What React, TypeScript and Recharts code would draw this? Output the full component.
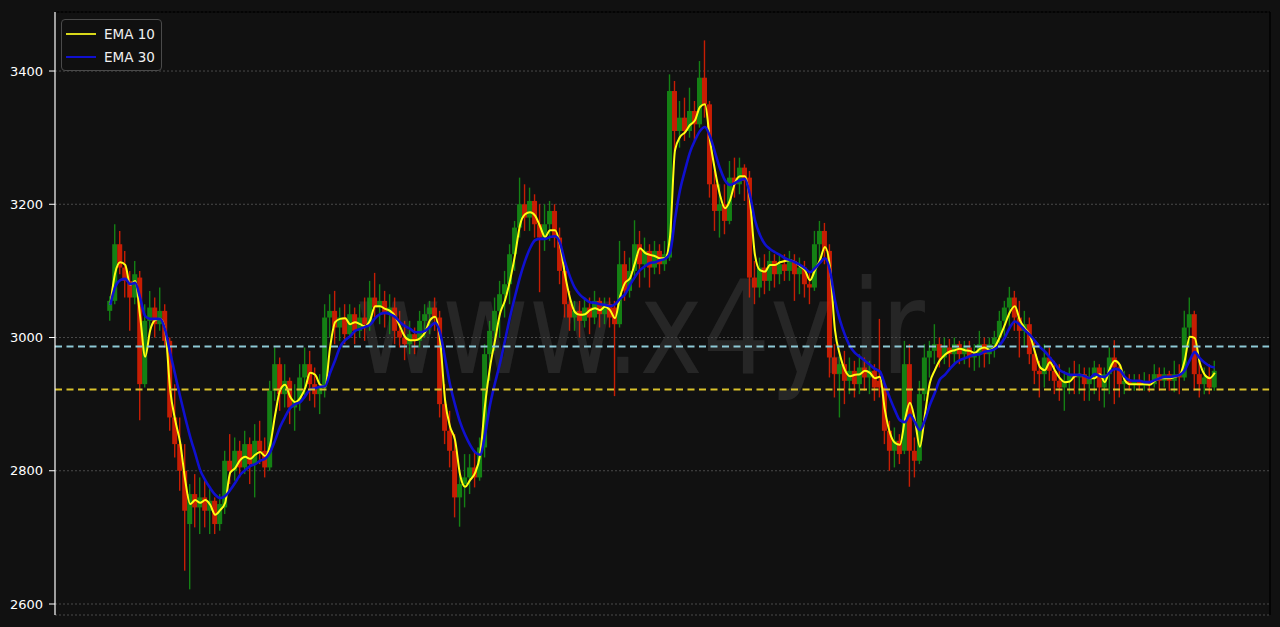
import React from 'react';
import {
  ComposedChart,
  Bar,
  Line,
  XAxis,
  YAxis,
  CartesianGrid,
  ReferenceLine,
} from 'recharts';

// ---- values ----
const yTicks = [2600, 2800, 3000, 3200, 3400];
const upperLevel = 2986.5;
const lowerLevel = 2922;

// candles: [open, high, low, close]
const candles: [number, number, number, number][] = [
  [3040,3062,3025,3055],[3055,3170,3050,3140],[3140,3160,3095,3105],[3105,3130,3060,3085],[3085,3100,3010,3060],
  [3060,3115,3050,3095],[3090,3100,2876,2930],[2930,3050,2925,3025],[3025,3070,3010,3045],[3045,3060,3000,3020],
  [3020,3075,3010,3040],[3040,3050,2985,2995],[2995,3000,2860,2880],[2880,2930,2820,2840],[2840,2880,2770,2800],
  [2800,2840,2650,2740],[2720,2780,2622,2765],[2765,2795,2715,2745],[2745,2790,2705,2760],[2760,2785,2715,2740],
  [2740,2775,2705,2755],[2755,2760,2705,2720],[2720,2765,2710,2750],[2745,2830,2735,2815],[2815,2855,2780,2800],
  [2800,2850,2785,2830],[2830,2845,2790,2805],[2805,2860,2795,2840],[2840,2850,2780,2810],[2810,2870,2760,2845],
  [2845,2875,2810,2830],[2830,2850,2790,2805],[2805,2935,2800,2920],[2920,2985,2905,2960],[2960,2970,2890,2915],
  [2915,2960,2895,2935],[2935,2940,2870,2895],[2895,2930,2860,2905],[2905,2960,2890,2940],[2940,2985,2910,2960],
  [2960,2980,2905,2930],[2930,2955,2895,2915],[2915,2945,2885,2925],[2925,3050,2910,3030],[3030,3065,3000,3040],
  [3040,3070,2990,3015],[3015,3045,2995,3030],[3030,3050,2990,3005],[3005,3050,3000,3035],[3035,3045,2990,3010],
  [3010,3050,3000,3030],[3030,3060,2995,3020],[3020,3085,3010,3060],[3060,3097,3030,3045],[3045,3080,3020,3055],
  [3055,3070,3015,3035],[3035,3065,3005,3045],[3045,3060,2990,3010],[3010,3040,2985,3000],[3000,3025,2966,2990],
  [2990,3025,2975,3005],[3005,3015,2975,2995],[2995,3040,2985,3025],[3025,3050,3000,3035],[3035,3055,3005,3045],
  [3045,3060,3010,3030],[3030,3040,2880,2900],[2900,2930,2840,2860],[2860,2890,2805,2830],[2830,2855,2730,2760],
  [2760,2800,2716,2780],[2780,2825,2745,2790],[2790,2825,2765,2805],[2805,2830,2775,2790],[2790,2850,2785,2835],
  [2835,2990,2820,2975],[2975,3025,2935,3010],[3010,3060,2980,3040],[3040,3085,3000,3065],[3065,3100,3030,3080],
  [3080,3140,3050,3125],[3125,3175,3100,3165],[3165,3240,3150,3200],[3200,3230,3160,3180],[3180,3225,3160,3205],
  [3205,3215,3150,3170],[3170,3200,3068,3150],[3150,3200,3130,3170],[3170,3205,3145,3190],[3190,3200,3135,3150],
  [3150,3165,3080,3100],[3100,3115,3030,3050],[3050,3070,3010,3030],[3030,3055,3010,3040],[3040,3055,3000,3025],
  [3025,3060,3015,3045],[3045,3060,3005,3030],[3030,3070,3020,3055],[3055,3060,3015,3035],[3035,3060,3020,3050],
  [3050,3060,3015,3030],[3045,3055,2912,3020],[3020,3145,3015,3110],[3110,3130,3055,3070],[3070,3120,3060,3100],
  [3100,3176,3090,3140],[3140,3160,3075,3110],[3110,3150,3090,3130],[3130,3140,3075,3105],[3105,3145,3095,3130],
  [3130,3140,3095,3110],[3110,3145,3100,3125],[3120,3395,3115,3370],[3370,3385,3280,3310],[3310,3355,3285,3330],
  [3330,3360,3295,3310],[3310,3375,3300,3340],[3340,3355,3295,3320],[3320,3415,3315,3390],[3390,3446,3330,3350],
  [3350,3355,3210,3230],[3230,3250,3160,3190],[3190,3230,3150,3200],[3200,3230,3155,3175],[3175,3265,3170,3240],
  [3240,3270,3210,3230],[3230,3270,3215,3255],[3255,3260,3205,3235],[3240,3250,3060,3090],[3090,3115,3050,3075],
  [3075,3120,3060,3105],[3105,3125,3065,3085],[3085,3130,3070,3115],[3115,3125,3075,3095],[3095,3125,3080,3110],
  [3110,3125,3085,3100],[3100,3130,3085,3115],[3115,3125,3055,3095],[3095,3120,3065,3105],[3105,3115,3060,3080],
  [3080,3100,3050,3075],[3075,3160,3070,3140],[3140,3175,3115,3160],[3160,3172,3110,3130],[3130,3140,2940,2970],
  [2970,2990,2910,2945],[2945,2980,2880,2960],[2960,2980,2900,2935],[2935,2970,2915,2950],[2950,2965,2910,2930],
  [2930,2975,2915,2955],[2955,2970,2920,2940],[2940,2965,2915,2950],[2950,2960,2905,2925],[2935,3028,2910,2925],
  [2925,2935,2840,2860],[2860,2875,2800,2830],[2830,2865,2805,2845],[2845,2855,2810,2825],[2830,2995,2825,2960],
  [2960,2990,2776,2830],[2830,2850,2790,2815],[2815,2935,2810,2915],[2915,2990,2905,2970],[2970,2995,2940,2980],
  [2980,3020,2960,2990],[2990,3000,2955,2970],[2970,3000,2960,2985],[2985,2998,2955,2975],[2975,3000,2960,2990],
  [2990,2995,2960,2975],[2975,2995,2960,2985],[2985,2995,2955,2970],[2970,2990,2950,2975],[2975,3010,2955,2990],
  [2990,3000,2955,2975],[2975,3000,2960,2990],[2990,3010,2970,3000],[3000,3040,2985,3025],[3025,3055,3000,3045],
  [3045,3076,3015,3060],[3060,3070,3010,3030],[3030,3055,2970,3010],[3010,3040,2985,3020],[3020,3030,2960,2975],
  [2975,2995,2930,2950],[2950,2965,2910,2945],[2945,2990,2925,2970],[2970,2985,2935,2950],[2950,2965,2915,2935],
  [2935,2960,2905,2925],[2925,2950,2890,2935],[2935,2955,2915,2945],[2945,2965,2915,2940],[2940,2960,2915,2945],
  [2945,2955,2905,2930],[2930,2955,2905,2940],[2940,2965,2915,2955],[2955,2960,2905,2925],[2925,2955,2895,2945],
  [2945,2985,2915,2970],[2970,2996,2900,2955],[2955,2960,2910,2930],[2930,2950,2915,2935],[2935,2945,2920,2930],
  [2930,2945,2920,2935],[2935,2945,2920,2928],[2928,2948,2920,2935],[2935,2945,2918,2930],[2930,2960,2925,2945],
  [2945,2955,2920,2935],[2935,2955,2925,2945],[2945,2950,2920,2935],[2935,2965,2918,2945],[2945,2960,2915,2940],
  [2940,3040,2935,3015],[3015,3060,2985,3035],[3035,3040,2920,2945],[2945,2965,2910,2930],[2930,2955,2915,2940],
  [2940,2960,2915,2925],[2925,2965,2920,2950],
];

const ema10: number[] = [
  3049,3097,3113,3109,3079,3085,3031,2971,3011,3026,
  3028,3011,2921,2876,2842,2786,2750,2756,2752,2756,
  2749,2734,2741,2752,2797,2804,2816,2821,2818,2824,
  2828,2822,2839,2884,2921,2929,2911,2903,2909,2924,
  2947,2944,2929,2926,2986,3023,3028,3029,3020,3023,
  3020,3017,3026,3047,3047,3043,3040,3032,3016,3001,
  2996,2996,2999,3008,3026,3031,2996,2906,2866,2846,
  2794,2776,2786,2797,2824,2899,2956,2996,3036,3056,
  3086,3124,3169,3185,3188,3183,3167,3151,3161,3161,
  3139,3094,3059,3038,3034,3035,3041,3044,3041,3046,
  3041,3029,3061,3082,3089,3112,3134,3127,3124,3122,
  3119,3119,3151,3281,3301,3308,3319,3326,3346,3350,
  3296,3251,3214,3194,3206,3232,3242,3242,3206,3124,
  3101,3099,3109,3109,3113,3115,3116,3113,3107,3101,
  3086,3101,3116,3136,3106,3012,2974,2951,2942,2944,
  2945,2950,2947,2939,2941,2891,2857,2842,2839,2876,
  2902,2876,2836,2884,2932,2951,2966,2974,2979,2981,
  2983,2981,2980,2977,2983,2985,2981,2986,3001,3019,
  3038,3047,3026,3014,3004,2979,2956,2951,2963,2951,
  2939,2933,2934,2942,2944,2942,2939,2939,2945,2933,
  2953,2965,2959,2936,2930,2930,2930,2930,2929,2935,
  2939,2939,2939,2941,2944,2966,3001,2999,2962,2944,
  2939,2947,
];

const ema30: number[] = [
  3049,3076,3086,3088,3080,3082,3059,3032,3028,3028,
  3028,3011,2977,2944,2911,2880,2851,2826,2801,2786,
  2774,2764,2759,2762,2771,2782,2794,2801,2807,2810,
  2815,2818,2828,2846,2866,2881,2894,2900,2903,2912,
  2922,2924,2926,2927,2947,2966,2986,2996,3002,3010,
  3013,3016,3019,3029,3035,3037,3035,3031,3023,3017,
  3013,3008,3008,3010,3016,3022,3007,2969,2929,2899,
  2873,2854,2839,2828,2824,2854,2899,2932,2962,2996,
  3031,3062,3091,3115,3134,3146,3148,3148,3151,3152,
  3142,3113,3091,3074,3064,3058,3053,3052,3050,3049,
  3047,3050,3058,3065,3079,3091,3101,3107,3112,3113,
  3116,3118,3127,3178,3221,3251,3278,3296,3310,3316,
  3302,3278,3254,3236,3229,3232,3236,3238,3214,3176,
  3154,3140,3133,3128,3124,3119,3116,3113,3109,3104,
  3098,3104,3112,3119,3101,3056,3026,3004,2987,2977,
  2971,2965,2959,2953,2949,2929,2909,2891,2876,2873,
  2884,2873,2861,2876,2899,2917,2937,2944,2953,2961,
  2966,2969,2972,2974,2975,2979,2980,2983,2989,3000,
  3015,3024,3019,3011,3004,2995,2986,2979,2970,2961,
  2951,2947,2944,2944,2944,2942,2939,2945,2942,2941,
  2948,2953,2951,2941,2936,2935,2935,2933,2933,2936,
  2939,2941,2941,2942,2944,2951,2966,2978,2969,2962,
  2957,2955,
];

// ---- build the table the library needs ----
const data = candles.map(([o, h, l, c], i) => ({
  i,
  o,
  h,
  l,
  c,
  e10: ema10[i],
  e30: ema30[i],
}));

const lastIndex = candles.length - 1;
const xPad = lastIndex * 0.05;
const yMin = 2583.5;
const yMax = 3488.6;

const RED = '#f02000';
const GREEN = '#159a15';
const YELLOW = '#ffff10';
const BLUE = '#1010d0';
const BG = '#111111';
const FONT = '"DejaVu Sans", Verdana, sans-serif';

const Candle = (props: any) => {
  const { x, y, width, height, payload } = props;
  if (!payload || x == null || y == null) return null;
  const { o, h, l, c } = payload;
  const top = Math.min(y, y + height);
  const hh = Math.abs(height);
  const k = h === l ? 0 : hh / (h - l);
  const up = c >= o;
  const color = up ? GREEN : RED;
  const bodyTop = top + (h - Math.max(o, c)) * k;
  const bodyH = Math.max(1, Math.abs(c - o) * k);
  const cx = x + width / 2;
  return (
    <g opacity={0.82}>
      <line x1={cx} x2={cx} y1={top} y2={top + hh} stroke={color} strokeWidth={1.4} />
      <rect x={x - 0.5} y={bodyTop} width={width + 1} height={bodyH} fill={color} />
    </g>
  );
};

export default function App() {
  return (
    <div
      style={{
        position: 'absolute',
        left: 0,
        top: 0,
        width: 1280,
        height: 627,
        background: BG,
        overflow: 'hidden',
      }}
    >
      <svg
        width={1280}
        height={627}
        style={{ position: 'absolute', left: 0, top: 0 }}
      >
        <text
          x={355}
          y={373}
          fontFamily={FONT}
          fontSize={130}
          fill="#ffffff"
          fillOpacity={0.09}
          textLength={570}
          lengthAdjust="spacingAndGlyphs"
        >
          www.x4y.ir
        </text>
      </svg>
      <div style={{ position: 'absolute', left: 0, top: 0 }}>
        <ComposedChart
          width={1280}
          height={627}
          data={data}
          margin={{ top: 12, right: 10, bottom: 12, left: 0 }}
        >
          <CartesianGrid
            vertical={false}
            stroke="#4a4a4a"
            strokeDasharray="2 2"
            strokeWidth={1}
          />
          <XAxis
            dataKey="i"
            type="number"
            domain={[-xPad, lastIndex + xPad]}
            allowDataOverflow
            height={0}
            tick={false}
            tickLine={false}
            axisLine={{ stroke: '#ffffff', strokeWidth: 1.2 }}
          />
          <YAxis
            type="number"
            domain={[yMin, yMax]}
            allowDataOverflow
            ticks={yTicks}
            width={55}
            tickSize={6}
            tickMargin={6}
            tick={{ fill: '#ffffff', fontSize: 13, fontFamily: FONT }}
            tickLine={{ stroke: '#ffffff' }}
            axisLine={{ stroke: '#ffffff', strokeWidth: 1.2 }}
          />
          <Bar
            dataKey={(d: any) => [d.l, d.h]}
            barSize={4}
            shape={<Candle />}
            isAnimationActive={false}
          />
          <Line
            type="monotone"
            dataKey="e10"
            stroke={YELLOW}
            strokeWidth={2}
            dot={false}
            activeDot={false}
            isAnimationActive={false}
          />
          <Line
            type="monotone"
            dataKey="e30"
            stroke={BLUE}
            strokeWidth={2.6}
            dot={false}
            activeDot={false}
            isAnimationActive={false}
          />
          <ReferenceLine
            y={upperLevel}
            stroke="#8ec9d6"
            strokeWidth={2}
            strokeDasharray="7 4.5"
          />
          <ReferenceLine
            y={lowerLevel}
            stroke="#d9c22c"
            strokeWidth={2}
            strokeDasharray="7 4.5"
          />
          <ReferenceLine y={yMax} stroke="#000000" strokeWidth={1.5} />
          <ReferenceLine x={lastIndex + xPad} stroke="#000000" strokeWidth={1.5} />
        </ComposedChart>
      </div>
      <div
        style={{
          position: 'absolute',
          left: 61,
          top: 19,
          width: 101,
          height: 52,
          boxSizing: 'border-box',
          border: '1px solid #4a4a4a',
          borderRadius: 4,
          background: 'rgba(17,17,17,0.85)',
          fontFamily: FONT,
          fontSize: 13.5,
          color: '#f0f0f0',
        }}
      >
        <div style={{ position: 'absolute', left: 4, top: 13, width: 30, height: 2, background: '#d8d81a' }} />
        <div style={{ position: 'absolute', left: 42, top: 5, height: 18, lineHeight: '18px' }}>EMA 10</div>
        <div style={{ position: 'absolute', left: 4, top: 36, width: 30, height: 2, background: BLUE }} />
        <div style={{ position: 'absolute', left: 42, top: 28, height: 18, lineHeight: '18px' }}>EMA 30</div>
      </div>
    </div>
  );
}
